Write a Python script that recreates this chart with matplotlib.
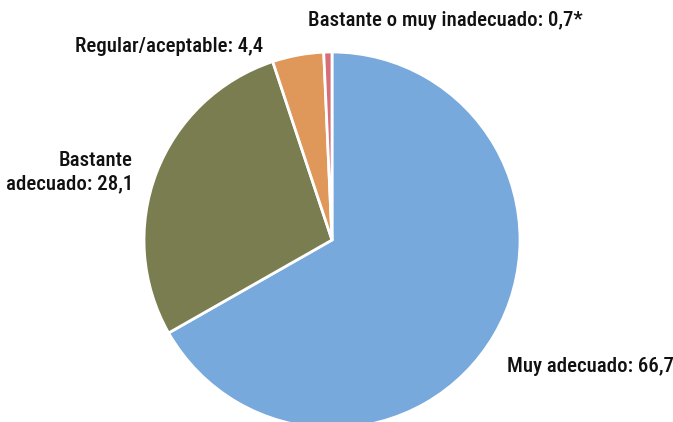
import matplotlib
matplotlib.use('Agg')
from matplotlib import pyplot as plt

plt.rcParams['font.family'] = ['Roboto Condensed', 'DejaVu Sans']

labels = ['Muy adecuado: 66,7', 'Bastante\nadecuado: 28,1', 'Regular/aceptable: 4,4',
          'Bastante o muy inadecuado: 0,7*']
values = [66.7, 28.1, 4.4, 0.7]
colors = ['#77A9DC', '#7A7D4F', '#E0975A', '#D66E78']

W, H = 673, 422
fig = plt.figure(figsize=(W / 100, H / 100), dpi=100)
ax = fig.add_axes([0, 0, 1, 1])

cx, cy, r = 332, H - 240, 188
ax.pie(values, colors=colors, startangle=90, counterclock=False,
       center=(cx, cy), radius=r, frame=True,
       wedgeprops=dict(edgecolor='white', linewidth=2))
ax.set_xlim(0, W)
ax.set_ylim(0, H)
ax.set_aspect('equal')
ax.axis('off')

fs = 15
kw = dict(fontsize=fs, fontweight='medium', va='center', color='#111111')
ax.text(308, H - 20, labels[3], ha='left', **kw)
ax.text(263, H - 47, labels[2], ha='right', **kw)
ax.text(133, H - 172, labels[1], ha='right', linespacing=1.3, **kw)
ax.text(507, H - 366, labels[0], ha='left', **kw)

fig.savefig('out.png', dpi=100)
